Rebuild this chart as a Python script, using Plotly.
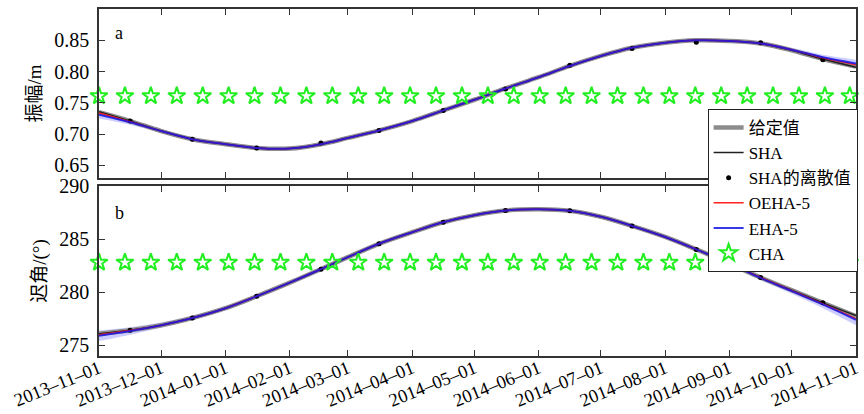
import pandas as pd
import plotly.graph_objects as go

# ---------------- data ----------------
curve_dates = ["2013-11-01", "2013-11-16", "2013-12-01", "2013-12-16", "2014-01-01", "2014-01-16",
               "2014-02-01", "2014-02-16", "2014-03-01", "2014-03-16", "2014-04-01", "2014-04-16",
               "2014-05-01", "2014-05-16", "2014-06-01", "2014-06-16", "2014-07-01", "2014-07-16",
               "2014-08-01", "2014-08-16", "2014-09-01", "2014-09-16", "2014-10-01", "2014-10-16",
               "2014-11-01"]

amp_given = [0.735, 0.721, 0.705, 0.692, 0.684, 0.678, 0.677, 0.684, 0.694, 0.706, 0.721, 0.738,
             0.755, 0.773, 0.791, 0.809, 0.825, 0.838, 0.846, 0.850, 0.849, 0.845, 0.834, 0.820, 0.808]
amp_sha = [0.736, 0.721, 0.705, 0.692, 0.684, 0.678, 0.677, 0.684, 0.694, 0.706, 0.721, 0.738,
           0.755, 0.773, 0.791, 0.809, 0.825, 0.838, 0.846, 0.850, 0.849, 0.845, 0.834, 0.820, 0.807]
amp_oeha = [0.734, 0.720, 0.705, 0.692, 0.684, 0.678, 0.677, 0.684, 0.694, 0.706, 0.721, 0.738,
            0.755, 0.773, 0.791, 0.809, 0.825, 0.838, 0.846, 0.850, 0.849, 0.845, 0.835, 0.822, 0.811]
amp_eha = [0.731, 0.719, 0.705, 0.692, 0.684, 0.678, 0.677, 0.684, 0.694, 0.706, 0.721, 0.738,
           0.755, 0.773, 0.791, 0.809, 0.825, 0.838, 0.846, 0.850, 0.849, 0.845, 0.835, 0.823, 0.813]
amp_band = [0.006, 0.004, 0.003, 0.002, 0.002, 0.002, 0.002, 0.002, 0.002, 0.002, 0.002, 0.002,
            0.002, 0.002, 0.002, 0.002, 0.002, 0.002, 0.002, 0.002, 0.002, 0.002, 0.003, 0.004, 0.006]

pha_given = [276.1, 276.42, 276.9, 277.58, 278.5, 279.62, 280.9, 282.17, 283.3, 284.56, 285.65, 286.59,
             287.25, 287.69, 287.8, 287.66, 287.1, 286.24, 285.2, 284.03, 282.7, 281.38, 280.2, 279.0, 277.75]
pha_sha = [276.1, 276.42, 276.9, 277.58, 278.5, 279.62, 280.9, 282.17, 283.3, 284.56, 285.65, 286.59,
           287.25, 287.69, 287.8, 287.66, 287.1, 286.24, 285.2, 284.03, 282.7, 281.38, 280.2, 279.0, 277.8]
pha_oeha = [276.0, 276.4, 276.9, 277.58, 278.5, 279.62, 280.9, 282.17, 283.3, 284.56, 285.65, 286.59,
            287.25, 287.69, 287.8, 287.66, 287.1, 286.24, 285.2, 284.03, 282.7, 281.38, 280.15, 278.9, 277.5]
pha_eha = [275.9, 276.35, 276.9, 277.58, 278.5, 279.62, 280.9, 282.17, 283.3, 284.56, 285.65, 286.59,
           287.25, 287.69, 287.8, 287.66, 287.1, 286.24, 285.2, 284.03, 282.7, 281.35, 280.1, 278.85, 277.4]
pha_band = [0.5, 0.35, 0.25, 0.2, 0.15, 0.15, 0.15, 0.15, 0.15, 0.15, 0.15, 0.15,
            0.15, 0.15, 0.15, 0.15, 0.15, 0.15, 0.15, 0.15, 0.15, 0.2, 0.25, 0.35, 0.5]

dot_dates = ["2013-11-16", "2013-12-16", "2014-01-16", "2014-02-16", "2014-03-16", "2014-04-16",
             "2014-05-16", "2014-06-16", "2014-07-16", "2014-08-16", "2014-09-16", "2014-10-16"]
amp_dots = [0.721, 0.692, 0.678, 0.686, 0.706, 0.738, 0.772, 0.810, 0.837, 0.847, 0.846, 0.819]
pha_dots = [276.42, 277.58, 279.62, 282.17, 284.56, 286.59, 287.69, 287.66, 286.24, 284.03, 281.38, 279.0]

cha_day_offsets = [0, 12.5, 25, 37.5, 50, 62.5, 75, 87.5, 100, 112.5, 125, 137.5, 150, 162.5, 175,
                   187.5, 200, 212.5, 225, 237.5, 250, 262.5, 275, 287.5, 300, 312.5, 325, 337.5, 350, 362]
cha_amp = 0.761
cha_pha = 282.8

amp_ticks = [0.65, 0.70, 0.75, 0.80, 0.85]
pha_ticks = [275, 280, 285, 290]

# ---------------- figure ----------------
cd = pd.to_datetime(curve_dates)
dd = pd.to_datetime(dot_dates)
sd = pd.Timestamp("2013-11-01") + pd.to_timedelta(cha_day_offsets, unit="D")

SERIF = '"Liberation Serif", "Times New Roman", "Noto Sans CJK SC", serif'
fig = go.Figure()

def add_panel(xa, ya, given, sha, oeha, eha, band, dots, cha, show):
    up = [v + b for v, b in zip(eha, band)]
    lo = [v - b for v, b in zip(eha, band)]
    fig.add_trace(go.Scatter(x=cd, y=up, mode="lines", line=dict(width=0, shape="spline"),
                             showlegend=False, hoverinfo="skip", xaxis=xa, yaxis=ya))
    fig.add_trace(go.Scatter(x=cd, y=lo, mode="lines", line=dict(width=0, shape="spline"),
                             fill="tonexty", fillcolor="rgba(110,110,255,0.35)",
                             showlegend=False, hoverinfo="skip", xaxis=xa, yaxis=ya))
    fig.add_trace(go.Scatter(x=cd, y=given, mode="lines", name="给定值",
                             line=dict(color="#8c8c8c", width=4.5, shape="spline"),
                             showlegend=show, xaxis=xa, yaxis=ya))
    fig.add_trace(go.Scatter(x=cd, y=sha, mode="lines", name="SHA",
                             line=dict(color="#202020", width=1.5, shape="spline"),
                             showlegend=show, xaxis=xa, yaxis=ya))
    fig.add_trace(go.Scatter(x=dd, y=dots, mode="markers", name="SHA的离散值",
                             marker=dict(color="black", size=5),
                             showlegend=show, xaxis=xa, yaxis=ya))
    fig.add_trace(go.Scatter(x=cd, y=oeha, mode="lines", name="OEHA-5",
                             line=dict(color="#ff2020", width=1.5, shape="spline"),
                             showlegend=show, xaxis=xa, yaxis=ya))
    fig.add_trace(go.Scatter(x=cd, y=eha, mode="lines", name="EHA-5",
                             line=dict(color="rgba(20,20,230,0.85)", width=2, shape="spline"),
                             showlegend=show, xaxis=xa, yaxis=ya))
    fig.add_trace(go.Scatter(x=sd, y=[cha] * len(sd), mode="markers", name="CHA",
                             marker=dict(symbol="star-open", color="#22ee22", size=13,
                                         line=dict(width=2, color="#22ee22")),
                             cliponaxis=False,
                             showlegend=show, xaxis=xa, yaxis=ya))

add_panel("x", "y", amp_given, amp_sha, amp_oeha, amp_eha, amp_band, amp_dots, cha_amp, True)
add_panel("x2", "y2", pha_given, pha_sha, pha_oeha, pha_eha, pha_band, pha_dots, cha_pha, False)

tickfont = dict(family=SERIF, size=20, color="black")
xtickfont = dict(family=SERIF, size=18.5, color="black")
common_x = dict(range=["2013-11-01", "2014-11-01"], dtick="M1", tick0="2013-11-01",
                ticks="inside", ticklen=6, tickwidth=1.2, tickcolor="#333",
                showline=True, linecolor="#333", linewidth=1.5, mirror="ticks",
                showgrid=False, zeroline=False, automargin=False)
common_y = dict(ticks="inside", ticklen=6, tickwidth=1.2, tickcolor="#333",
                showline=True, linecolor="#333", linewidth=1.5, mirror="ticks",
                showgrid=False, zeroline=False, tickfont=tickfont, ticklabelstandoff=4,
                automargin=False)

fig.update_layout(
    template="none",
    width=864, height=414,
    margin=dict(l=99, r=6, t=9, b=58),
    paper_bgcolor="white", plot_bgcolor="white",
    font=dict(family=SERIF, size=17, color="black"),
    xaxis=dict(**common_x, domain=[0, 1], anchor="y", showticklabels=False),
    xaxis2=dict(**common_x, domain=[0, 1], anchor="y2", showticklabels=True,
                tickformat="%Y–%m–%d", tickangle=-22, tickfont=xtickfont,
                ticklabelstandoff=-7),
    yaxis=dict(**common_y, domain=[0.513, 1.0], anchor="x", range=[0.63, 0.90],
               tickvals=amp_ticks, tickformat=".2f",
               title=dict(text="振幅/m", font=dict(family=SERIF, size=19), standoff=8)),
    yaxis2=dict(**common_y, domain=[0.0, 0.49], anchor="x2", range=[274, 290],
                tickvals=pha_ticks,
                title=dict(text="迟角/(°)", font=dict(family=SERIF, size=19), standoff=8)),
    legend=dict(x=0.804, y=0.712, xanchor="left", yanchor="top", traceorder="normal",
                bgcolor="white", bordercolor="#222", borderwidth=1,
                font=dict(family=SERIF, size=17, color="black"),
                tracegroupgap=0, itemwidth=30),
    showlegend=True,
    annotations=[
        dict(text="a", x=0.027, y=0.931, xref="paper", yref="paper", showarrow=False,
             yanchor="middle", xanchor="center", font=dict(family=SERIF, size=18)),
        dict(text="b", x=0.027, y=0.412, xref="paper", yref="paper", showarrow=False,
             yanchor="middle", xanchor="center", font=dict(family=SERIF, size=18)),
    ],
)

fig.write_html("out.html", config={"displayModeBar": False},
               post_script="document.body.style.margin='0px';")
